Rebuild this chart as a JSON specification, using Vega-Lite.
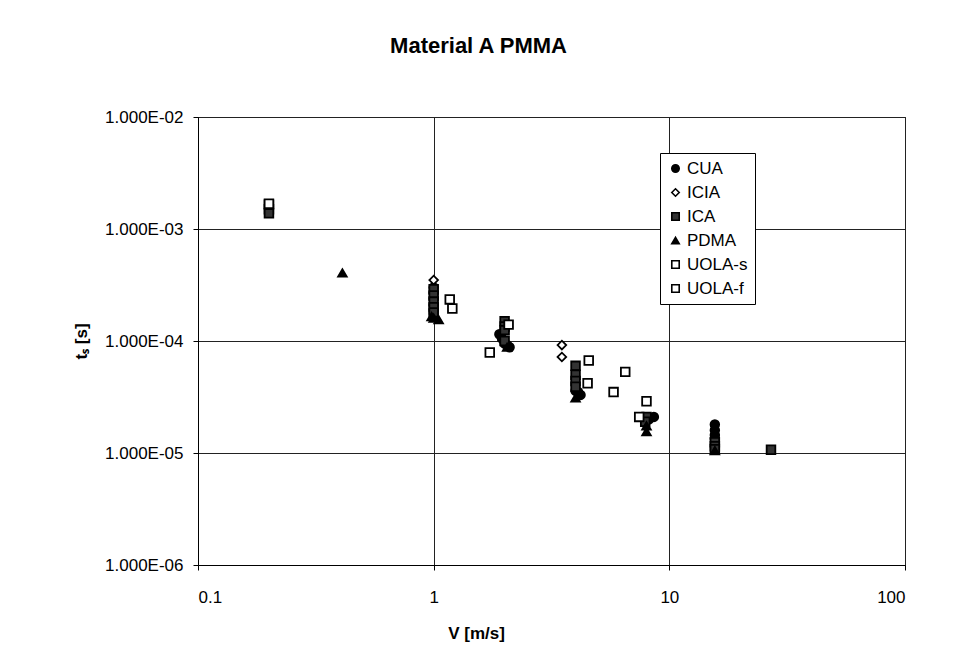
{
  "$schema": "https://vega.github.io/schema/vega-lite/v6.json",
  "width": 707,
  "height": 448,
  "autosize": "none",
  "padding": {"left": 198, "top": 117, "right": 64, "bottom": 104},
  "background": "white",
  "title": {
    "text": "Material A PMMA",
    "anchor": "middle",
    "dx": -73,
    "offset": 50,
    "fontSize": 22,
    "fontWeight": "bold",
    "font": "Liberation Sans",
    "color": "black"
  },
  "data": {
    "values": [
      {"series": "CUA", "V": 1.0, "ts": 3.0e-4},
      {"series": "CUA", "V": 1.0, "ts": 2.7e-4},
      {"series": "CUA", "V": 1.0, "ts": 2.4e-4},
      {"series": "CUA", "V": 1.0, "ts": 2.1e-4},
      {"series": "CUA", "V": 1.0, "ts": 1.9e-4},
      {"series": "CUA", "V": 1.0, "ts": 1.75e-4},
      {"series": "CUA", "V": 1.9, "ts": 1.15e-4},
      {"series": "CUA", "V": 1.95, "ts": 1.05e-4},
      {"series": "CUA", "V": 2.0, "ts": 9.5e-5},
      {"series": "CUA", "V": 2.1, "ts": 8.8e-5},
      {"series": "CUA", "V": 2.05, "ts": 9.2e-5},
      {"series": "CUA", "V": 4.0, "ts": 3.6e-5},
      {"series": "CUA", "V": 4.1, "ts": 3.5e-5},
      {"series": "CUA", "V": 4.2, "ts": 3.3e-5},
      {"series": "CUA", "V": 8.2, "ts": 2.0e-5},
      {"series": "CUA", "V": 8.6, "ts": 2.1e-5},
      {"series": "CUA", "V": 15.6, "ts": 1.8e-5},
      {"series": "CUA", "V": 15.6, "ts": 1.6e-5},
      {"series": "CUA", "V": 15.6, "ts": 1.45e-5},
      {"series": "CUA", "V": 15.6, "ts": 1.35e-5},
      {"series": "ICIA", "V": 1.0, "ts": 3.5e-4},
      {"series": "ICIA", "V": 3.5, "ts": 9.2e-5},
      {"series": "ICIA", "V": 3.5, "ts": 7.2e-5},
      {"series": "ICA", "V": 0.2, "ts": 1.65e-3},
      {"series": "ICA", "V": 0.2, "ts": 1.5e-3},
      {"series": "ICA", "V": 0.2, "ts": 1.38e-3},
      {"series": "ICA", "V": 1.0, "ts": 2.9e-4},
      {"series": "ICA", "V": 1.0, "ts": 2.55e-4},
      {"series": "ICA", "V": 1.0, "ts": 2.25e-4},
      {"series": "ICA", "V": 1.0, "ts": 2.0e-4},
      {"series": "ICA", "V": 1.0, "ts": 1.8e-4},
      {"series": "ICA", "V": 2.0, "ts": 1.5e-4},
      {"series": "ICA", "V": 2.0, "ts": 1.35e-4},
      {"series": "ICA", "V": 2.0, "ts": 1.25e-4},
      {"series": "ICA", "V": 2.0, "ts": 1.0e-4},
      {"series": "ICA", "V": 4.0, "ts": 6.0e-5},
      {"series": "ICA", "V": 4.0, "ts": 5.0e-5},
      {"series": "ICA", "V": 4.0, "ts": 4.4e-5},
      {"series": "ICA", "V": 4.0, "ts": 3.9e-5},
      {"series": "ICA", "V": 8.0, "ts": 2.1e-5},
      {"series": "ICA", "V": 7.9, "ts": 1.9e-5},
      {"series": "ICA", "V": 15.6, "ts": 1.25e-5},
      {"series": "ICA", "V": 15.6, "ts": 1.15e-5},
      {"series": "ICA", "V": 15.6, "ts": 1.08e-5},
      {"series": "ICA", "V": 27.0, "ts": 1.07e-5},
      {"series": "PDMA", "V": 0.41, "ts": 4.05e-4},
      {"series": "PDMA", "V": 0.98, "ts": 1.65e-4},
      {"series": "PDMA", "V": 1.0, "ts": 1.6e-4},
      {"series": "PDMA", "V": 1.05, "ts": 1.55e-4},
      {"series": "PDMA", "V": 2.05, "ts": 8.8e-5},
      {"series": "PDMA", "V": 4.0, "ts": 3.1e-5},
      {"series": "PDMA", "V": 8.0, "ts": 1.75e-5},
      {"series": "PDMA", "V": 8.0, "ts": 1.55e-5},
      {"series": "PDMA", "V": 15.6, "ts": 1.05e-5},
      {"series": "UOLA-s", "V": 0.2, "ts": 1.68e-3},
      {"series": "UOLA-s", "V": 1.2, "ts": 1.95e-4},
      {"series": "UOLA-s", "V": 1.73, "ts": 7.9e-5},
      {"series": "UOLA-s", "V": 4.5, "ts": 4.2e-5},
      {"series": "UOLA-s", "V": 5.8, "ts": 3.5e-5},
      {"series": "UOLA-s", "V": 7.45, "ts": 2.1e-5},
      {"series": "UOLA-f", "V": 1.17, "ts": 2.35e-4},
      {"series": "UOLA-f", "V": 2.08, "ts": 1.4e-4},
      {"series": "UOLA-f", "V": 4.55, "ts": 6.7e-5},
      {"series": "UOLA-f", "V": 6.5, "ts": 5.3e-5},
      {"series": "UOLA-f", "V": 8.0, "ts": 2.9e-5}
    ]
  },
  "mark": {"type": "point", "size": 75, "strokeWidth": 1.8, "opacity": 1},
  "encoding": {
    "x": {
      "field": "V",
      "type": "quantitative",
      "scale": {"type": "log", "domain": [0.1, 100], "nice": false},
      "axis": {
        "title": "V [m/s]",
        "values": [0.1, 1, 10, 100],
        "format": "~g",
        "labelPadding": 19,
        "titleX": 278,
        "titlePadding": 20
      }
    },
    "y": {
      "field": "ts",
      "type": "quantitative",
      "scale": {"type": "log", "domain": [0.000001, 0.01], "nice": false},
      "axis": {
        "title": "tₛ [s]",
        "values": [0.000001, 0.00001, 0.0001, 0.001, 0.01],
        "labelExpr": "'1.000E-0' + (-round(log(datum.value) / LN10))",
        "labelPadding": 10,
        "titlePadding": 14
      }
    },
    "shape": {
      "field": "series",
      "type": "nominal",
      "sort": ["CUA", "ICIA", "ICA", "PDMA", "UOLA-s", "UOLA-f"],
      "scale": {
        "domain": ["CUA", "ICIA", "ICA", "PDMA", "UOLA-s", "UOLA-f"],
        "range": ["circle", "diamond", "square", "triangle-up", "square", "square"]
      },
      "legend": {
        "title": null,
        "orient": "none",
        "legendX": 462,
        "legendY": 36,
        "direction": "vertical",
        "symbolStrokeColor": "#000000",
        "symbolStrokeWidth": 1.6
      }
    },
    "fill": {
      "field": "series",
      "type": "nominal",
      "sort": ["CUA", "ICIA", "ICA", "PDMA", "UOLA-s", "UOLA-f"],
      "scale": {
        "domain": ["CUA", "ICIA", "ICA", "PDMA", "UOLA-s", "UOLA-f"],
        "range": ["#000000", "#ffffff", "#333333", "#000000", "#ffffff", "#ffffff"]
      },
      "legend": {
        "title": null,
        "orient": "none",
        "legendX": 462,
        "legendY": 36,
        "direction": "vertical",
        "symbolStrokeColor": "#000000",
        "symbolStrokeWidth": 1.6
      }
    },
    "stroke": {
      "field": "series",
      "type": "nominal",
      "sort": ["CUA", "ICIA", "ICA", "PDMA", "UOLA-s", "UOLA-f"],
      "scale": {
        "domain": ["CUA", "ICIA", "ICA", "PDMA", "UOLA-s", "UOLA-f"],
        "range": ["#000000", "#000000", "#000000", "#000000", "#000000", "#000000"]
      },
      "legend": {
        "title": null,
        "orient": "none",
        "legendX": 462,
        "legendY": 36,
        "direction": "vertical",
        "symbolStrokeWidth": 1.6
      }
    }
  },
  "config": {
    "font": "Liberation Sans",
    "view": {"stroke": "#000000", "strokeWidth": 1},
    "axis": {
      "grid": true,
      "gridColor": "#222222",
      "gridWidth": 1,
      "gridOpacity": 1,
      "domainColor": "#000000",
      "domainWidth": 1,
      "tickColor": "#000000",
      "tickSize": 5,
      "tickWidth": 1,
      "labelFontSize": 17,
      "labelColor": "#000000",
      "titleFontSize": 17,
      "titleFontWeight": "bold",
      "titleColor": "#000000"
    },
    "legend": {
      "labelFontSize": 17,
      "labelColor": "#000000",
      "symbolSize": 55,
      "symbolStrokeWidth": 1.6,
      "symbolStrokeColor": "#000000",
      "rowPadding": 6,
      "padding": 7,
      "labelOffset": 3,
      "fillColor": "#ffffff",
      "strokeColor": "#000000",
      "cornerRadius": 0
    }
  }
}
